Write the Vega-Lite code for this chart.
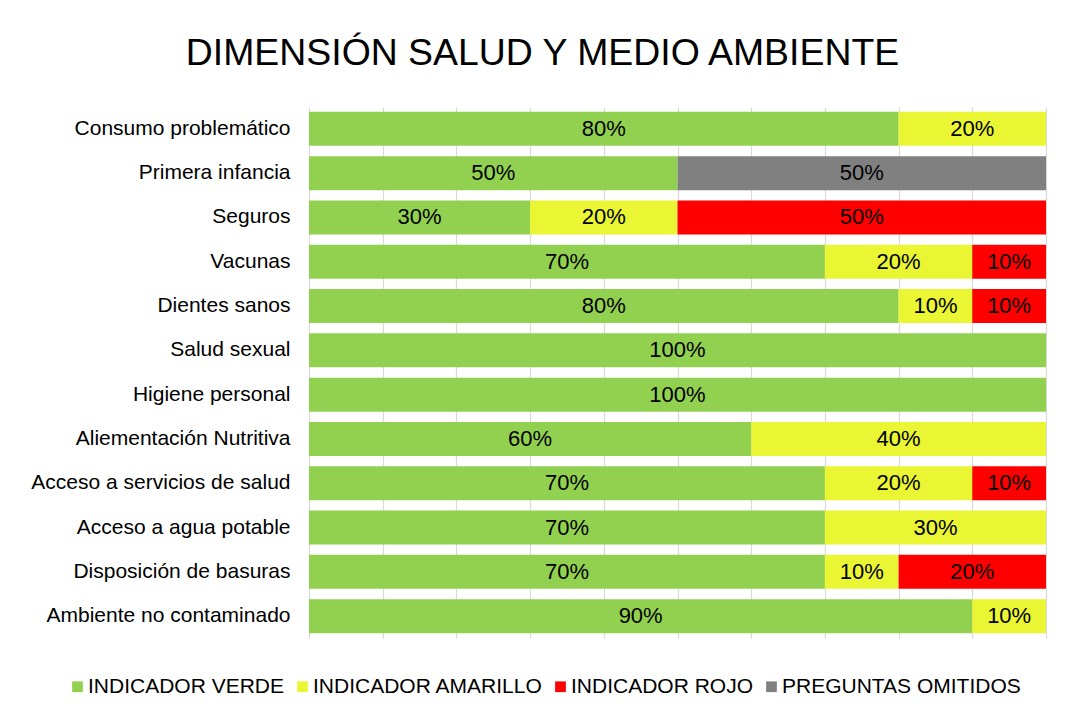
{
  "$schema": "https://vega.github.io/schema/vega-lite/v6.json",
  "width": 737,
  "height": 531,
  "autosize": {"type": "pad"},
  "padding": {"left": 30, "top": 34, "right": 5, "bottom": 5},
  "background": "white",
  "title": {
    "text": "DIMENSIÓN SALUD Y MEDIO AMBIENTE",
    "font": "Liberation Sans",
    "fontSize": 37.4,
    "fontWeight": "normal",
    "color": "#000000",
    "anchor": "middle",
    "dx": -135,
    "offset": 35
  },
  "data": {
    "values": [
      {"cat": "Consumo problemático", "ind": "INDICADOR VERDE", "o": 1, "v": 0.8},
      {"cat": "Consumo problemático", "ind": "INDICADOR AMARILLO", "o": 2, "v": 0.2},
      {"cat": "Primera infancia", "ind": "INDICADOR VERDE", "o": 1, "v": 0.5},
      {"cat": "Primera infancia", "ind": "PREGUNTAS OMITIDOS", "o": 4, "v": 0.5},
      {"cat": "Seguros", "ind": "INDICADOR VERDE", "o": 1, "v": 0.3},
      {"cat": "Seguros", "ind": "INDICADOR AMARILLO", "o": 2, "v": 0.2},
      {"cat": "Seguros", "ind": "INDICADOR ROJO", "o": 3, "v": 0.5},
      {"cat": "Vacunas", "ind": "INDICADOR VERDE", "o": 1, "v": 0.7},
      {"cat": "Vacunas", "ind": "INDICADOR AMARILLO", "o": 2, "v": 0.2},
      {"cat": "Vacunas", "ind": "INDICADOR ROJO", "o": 3, "v": 0.1},
      {"cat": "Dientes sanos", "ind": "INDICADOR VERDE", "o": 1, "v": 0.8},
      {"cat": "Dientes sanos", "ind": "INDICADOR AMARILLO", "o": 2, "v": 0.1},
      {"cat": "Dientes sanos", "ind": "INDICADOR ROJO", "o": 3, "v": 0.1},
      {"cat": "Salud sexual", "ind": "INDICADOR VERDE", "o": 1, "v": 1.0},
      {"cat": "Higiene personal", "ind": "INDICADOR VERDE", "o": 1, "v": 1.0},
      {"cat": "Aliementación Nutritiva", "ind": "INDICADOR VERDE", "o": 1, "v": 0.6},
      {"cat": "Aliementación Nutritiva", "ind": "INDICADOR AMARILLO", "o": 2, "v": 0.4},
      {"cat": "Acceso a servicios de salud", "ind": "INDICADOR VERDE", "o": 1, "v": 0.7},
      {"cat": "Acceso a servicios de salud", "ind": "INDICADOR AMARILLO", "o": 2, "v": 0.2},
      {"cat": "Acceso a servicios de salud", "ind": "INDICADOR ROJO", "o": 3, "v": 0.1},
      {"cat": "Acceso a agua potable", "ind": "INDICADOR VERDE", "o": 1, "v": 0.7},
      {"cat": "Acceso a agua potable", "ind": "INDICADOR AMARILLO", "o": 2, "v": 0.3},
      {"cat": "Disposición de basuras", "ind": "INDICADOR VERDE", "o": 1, "v": 0.7},
      {"cat": "Disposición de basuras", "ind": "INDICADOR AMARILLO", "o": 2, "v": 0.1},
      {"cat": "Disposición de basuras", "ind": "INDICADOR ROJO", "o": 3, "v": 0.2},
      {"cat": "Ambiente no contaminado", "ind": "INDICADOR VERDE", "o": 1, "v": 0.9},
      {"cat": "Ambiente no contaminado", "ind": "INDICADOR AMARILLO", "o": 2, "v": 0.1}
    ]
  },
  "transform": [
    {"stack": "v", "groupby": ["cat"], "sort": [{"field": "o", "order": "ascending"}], "as": ["v0", "v1"]},
    {"calculate": "(datum.v0 + datum.v1) / 2", "as": "mid"}
  ],
  "encoding": {
    "y": {
      "field": "cat",
      "type": "nominal",
      "sort": null,
      "scale": {"paddingInner": 0.233, "paddingOuter": 0.11},
      "axis": {
        "title": null,
        "domain": false,
        "ticks": false,
        "labelFont": "Liberation Sans",
        "labelFontSize": 21,
        "labelColor": "#000000",
        "labelPadding": 19,
        "labelLimit": 400
      }
    }
  },
  "layer": [
    {
      "mark": {"type": "bar"},
      "encoding": {
        "x": {
          "field": "v0",
          "type": "quantitative",
          "scale": {"domain": [0, 1], "nice": false},
          "axis": {
            "title": null,
            "labels": false,
            "ticks": false,
            "domain": false,
            "grid": true,
            "gridColor": "#D9D9D9",
            "gridWidth": 1.2,
            "values": [0, 0.1, 0.2, 0.3, 0.4, 0.5, 0.6, 0.7, 0.8, 0.9, 1.0]
          }
        },
        "x2": {"field": "v1"},
        "color": {
          "field": "ind",
          "type": "nominal",
          "scale": {
            "domain": ["INDICADOR VERDE", "INDICADOR AMARILLO", "INDICADOR ROJO", "PREGUNTAS OMITIDOS"],
            "range": ["#92D050", "#EAF633", "#FF0000", "#808080"]
          },
          "legend": {
            "orient": "none",
            "legendX": -242,
            "legendY": 569,
            "direction": "horizontal",
            "columns": 4,
            "title": null,
            "symbolType": "square",
            "symbolSize": 115,
            "symbolStrokeWidth": 0,
            "labelFont": "Liberation Sans",
            "labelFontSize": 21,
            "labelColor": "#000000",
            "labelOffset": 0,
            "columnPadding": 7,
            "labelLimit": 400
          }
        }
      }
    },
    {
      "mark": {"type": "text", "font": "Liberation Sans", "fontSize": 22, "color": "#000000", "baseline": "middle"},
      "encoding": {
        "x": {"field": "mid", "type": "quantitative"},
        "text": {"field": "v", "type": "quantitative", "format": ".0%"}
      }
    }
  ],
  "config": {"view": {"stroke": null}}
}
